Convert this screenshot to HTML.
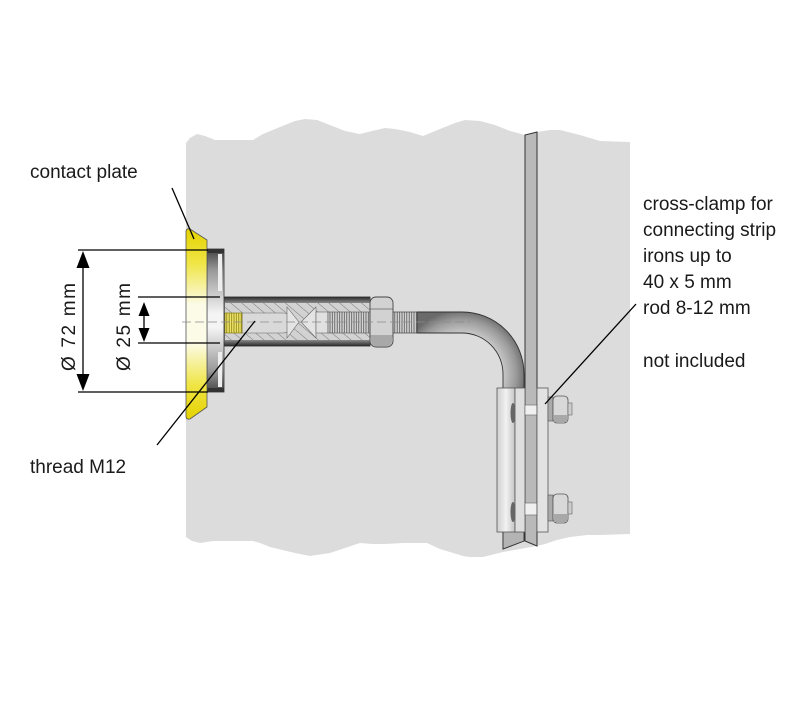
<!DOCTYPE html>
<html><head><meta charset="utf-8">
<style>
html,body{margin:0;padding:0;background:#fff;}
svg{display:block;}
text{font-family:"Liberation Sans",sans-serif;font-size:19px;fill:#1a1a1a;}
</style></head><body>
<svg width="800" height="716" viewBox="0 0 800 716" xmlns="http://www.w3.org/2000/svg">
<defs>
 <linearGradient id="plate" x1="0" y1="0" x2="0" y2="1">
  <stop offset="0" stop-color="#e4d200"/>
  <stop offset="0.18" stop-color="#f0e545"/>
  <stop offset="0.4" stop-color="#fbfbe8"/>
  <stop offset="0.6" stop-color="#fbfbe8"/>
  <stop offset="0.82" stop-color="#f0e545"/>
  <stop offset="1" stop-color="#e4d200"/>
 </linearGradient>
 <linearGradient id="disc" x1="0" y1="0" x2="0" y2="1">
  <stop offset="0" stop-color="#444"/>
  <stop offset="0.15" stop-color="#999"/>
  <stop offset="0.45" stop-color="#f4f4f4"/>
  <stop offset="0.55" stop-color="#f4f4f4"/>
  <stop offset="0.85" stop-color="#999"/>
  <stop offset="1" stop-color="#444"/>
 </linearGradient>
 <linearGradient id="band" x1="0" y1="0" x2="0" y2="1">
  <stop offset="0" stop-color="#2a2a2a"/>
  <stop offset="1" stop-color="#8a8a8a"/>
 </linearGradient>
 <linearGradient id="band2" x1="0" y1="0" x2="0" y2="1">
  <stop offset="0" stop-color="#8a8a8a"/>
  <stop offset="1" stop-color="#2a2a2a"/>
 </linearGradient>
 <linearGradient id="clampL" x1="0" y1="0" x2="1" y2="0">
  <stop offset="0" stop-color="#cfcfcf"/>
  <stop offset="0.5" stop-color="#f2f2f2"/>
  <stop offset="1" stop-color="#c4c4c4"/>
 </linearGradient>
 <radialGradient id="rod" cx="462" cy="374" r="64" gradientUnits="userSpaceOnUse">
  <stop offset="0.6" stop-color="#d0d0d0"/>
  <stop offset="0.85" stop-color="#999"/>
  <stop offset="1" stop-color="#6a6a6a"/>
 </radialGradient>
 <pattern id="thr" width="2.4" height="10" patternUnits="userSpaceOnUse">
  <rect width="2.4" height="10" fill="#dcdcdc"/>
  <line x1="1.2" y1="0" x2="1.2" y2="10" stroke="#555" stroke-width="0.9"/>
 </pattern>
 <pattern id="ythr" width="2.4" height="10" patternUnits="userSpaceOnUse">
  <rect width="2.4" height="10" fill="#f3ea70"/>
  <line x1="1.2" y1="0" x2="1.2" y2="10" stroke="#8a7f10" stroke-width="0.9"/>
 </pattern>
 <pattern id="hatch" width="7" height="7" patternUnits="userSpaceOnUse" patternTransform="rotate(-50)">
  <rect width="7" height="7" fill="#d2d2d2"/>
  <line x1="0" y1="0" x2="0" y2="7" stroke="#777" stroke-width="1"/>
 </pattern>
</defs>

<!-- wall -->
<path fill="#dcdcdc" d="M186,143 L190,138 L197,134 L205,136 L215,140 L253,140 L263,134 L280,127 L295,121 L305,119 L317,120 L330,125 L345,131 L360,134 L372,131 L385,128 L395,129 L410,132 L423,136 L440,129 L455,123 L465,120 L480,121 L495,125 L510,131 L525,135 L537,132 L550,130 L560,130 L580,135 L600,141 L630,142 L630,534 L600,535 L587,535 L570,537 L557,540 L545,544 L537,546 L520,549 L503,552 L483,557 L470,557 L463,556 L440,549 L427,543 L403,543 L385,544 L373,544 L360,543 L345,548 L330,553 L310,556 L295,553 L270,547 L260,543 L253,541 L213,541 L200,543 L192,541 L186,537 Z"/>

<!-- strip iron -->
<polygon points="525,135 537,132 537,546 525,541" fill="#b9b9b9" stroke="#333" stroke-width="1"/>

<!-- rod -->
<path d="M417,312 L462,312 A62,62 0 0 1 524,374 L524,541 L503,549 L503,374 A41,41 0 0 0 462,333 L417,333 Z" fill="url(#rod)" stroke="#333" stroke-width="0.9"/>
<polygon points="503,530 524,530 524,541 503,549" fill="#b4b4b4" stroke="#333" stroke-width="0.9"/>
<rect x="393" y="312" width="24" height="21" fill="url(#thr)" stroke="#444" stroke-width="0.7"/>

<!-- tube -->
<rect x="224" y="297" width="146" height="49" fill="#9a9a9a" stroke="#222" stroke-width="0.8"/>
<rect x="225" y="303" width="145" height="38" fill="url(#hatch)"/>
<path d="M242,313 L283,313 A10,10 0 0 1 283,333 L242,333 Z" fill="#d9d9d9" stroke="#666" stroke-width="0.6"/>
<polygon points="287,307 299,322 287,338" fill="#e4e4e4" stroke="#666" stroke-width="0.6"/>
<polygon points="316,307 301,322 316,338" fill="#e4e4e4" stroke="#666" stroke-width="0.6"/>
<rect x="316" y="312" width="12" height="21" fill="#e0e0e0" stroke="#666" stroke-width="0.6"/>
<rect x="328" y="312" width="42" height="21" fill="url(#thr)" stroke="#555" stroke-width="0.6"/>
<rect x="225" y="313" width="17" height="20" fill="url(#ythr)" stroke="#7a7000" stroke-width="0.6"/>
<rect x="224" y="297" width="146" height="6" fill="url(#band)"/>
<rect x="224" y="340" width="146" height="6" fill="url(#band2)"/>

<!-- nut -->
<rect x="370" y="297" width="23" height="50" rx="6" fill="#d2d2d2" stroke="#444" stroke-width="0.9"/>
<path d="M370.5,309 L392.5,309 M370.5,336 L392.5,336" stroke="#666" stroke-width="0.8"/>
<path d="M371,336 L392,336 L392,341 Q392,346 387,346 L376,346 Q371,346 371,341 Z" fill="#a8a8a8"/>

<!-- disc -->
<rect x="207" y="249" width="17" height="143" fill="url(#disc)" stroke="#333" stroke-width="0.8"/>
<rect x="207" y="249" width="17" height="4" fill="#333"/>
<rect x="207" y="388" width="17" height="4" fill="#333"/>
<rect x="218" y="254" width="4" height="37" fill="#eee"/>
<rect x="218" y="352" width="4" height="35" fill="#eee"/>

<!-- contact plate -->
<path d="M186,232 Q186,228 190,229 L207,240 L207,407 L190,419 Q186,420 186,416 Z" fill="url(#plate)" stroke="#555" stroke-width="0.8"/>

<!-- centerline -->
<line x1="182" y1="322" x2="470" y2="322" stroke="#8a8a8a" stroke-width="0.8" stroke-dasharray="9 4"/>

<!-- clamp -->
<rect x="497" y="388" width="18" height="144" fill="url(#clampL)" stroke="#555" stroke-width="0.8"/>
<rect x="515" y="388" width="10" height="144" fill="#dedede" stroke="#555" stroke-width="0.8"/>
<ellipse cx="513" cy="413" rx="2.5" ry="10" fill="#666"/>
<ellipse cx="513" cy="512" rx="2.5" ry="10" fill="#666"/>
<rect x="525" y="405" width="12" height="10" fill="#f0f0f0" stroke="#666" stroke-width="0.6"/>
<rect x="525" y="503" width="12" height="12" fill="#f0f0f0" stroke="#666" stroke-width="0.6"/>
<rect x="537" y="388" width="11" height="144" fill="#e2e2e2" stroke="#555" stroke-width="0.8"/>
<rect x="548" y="397" width="5" height="24" fill="#aaa" stroke="#555" stroke-width="0.6"/>
<rect x="548" y="495" width="5" height="26" fill="#aaa" stroke="#555" stroke-width="0.6"/>
<rect x="553" y="396" width="15" height="27" rx="4" fill="#d8d8d8" stroke="#555" stroke-width="0.8"/>
<rect x="553" y="494" width="15" height="29" rx="4" fill="#d8d8d8" stroke="#555" stroke-width="0.8"/>
<rect x="554" y="415" width="13" height="7" fill="#a8a8a8"/>
<rect x="554" y="514" width="13" height="8" fill="#a8a8a8"/>
<rect x="568" y="403" width="4" height="12" fill="#ccc" stroke="#666" stroke-width="0.6"/>
<rect x="568" y="502" width="4" height="12" fill="#ccc" stroke="#666" stroke-width="0.6"/>

<!-- dimension lines -->
<g stroke="#000" stroke-width="1.3" fill="none">
 <line x1="78" y1="250" x2="208" y2="250"/>
 <line x1="78" y1="392" x2="208" y2="392"/>
 <line x1="138" y1="297" x2="220" y2="297"/>
 <line x1="138" y1="343" x2="220" y2="343"/>
 <line x1="83" y1="262" x2="83" y2="380"/>
 <line x1="144" y1="312" x2="144" y2="333"/>
 <line x1="172" y1="188" x2="194" y2="239"/>
 <line x1="157" y1="445" x2="255" y2="321"/>
 <line x1="545" y1="404" x2="636" y2="304"/>
</g>
<g fill="#000">
 <polygon points="83,251 76.5,268 89.5,268"/>
 <polygon points="83,391 76.5,374 89.5,374"/>
 <polygon points="144,302 138.5,316 149.5,316"/>
 <polygon points="144,342 138.5,328 149.5,328"/>
</g>

<!-- labels -->
<text x="30" y="178">contact plate</text>
<text x="30" y="473">thread M12</text>
<text transform="translate(75,327) rotate(-90)" text-anchor="middle" textLength="88" lengthAdjust="spacing">Ø 72 mm</text>
<text transform="translate(130,327) rotate(-90)" text-anchor="middle" textLength="88" lengthAdjust="spacing">Ø 25 mm</text>
<text x="643" y="210">cross-clamp for</text>
<text x="643" y="236">connecting strip</text>
<text x="643" y="262">irons up to</text>
<text x="643" y="288">40 x 5 mm</text>
<text x="643" y="314">rod 8-12 mm</text>
<text x="643" y="367">not included</text>
</svg>
</body></html>
